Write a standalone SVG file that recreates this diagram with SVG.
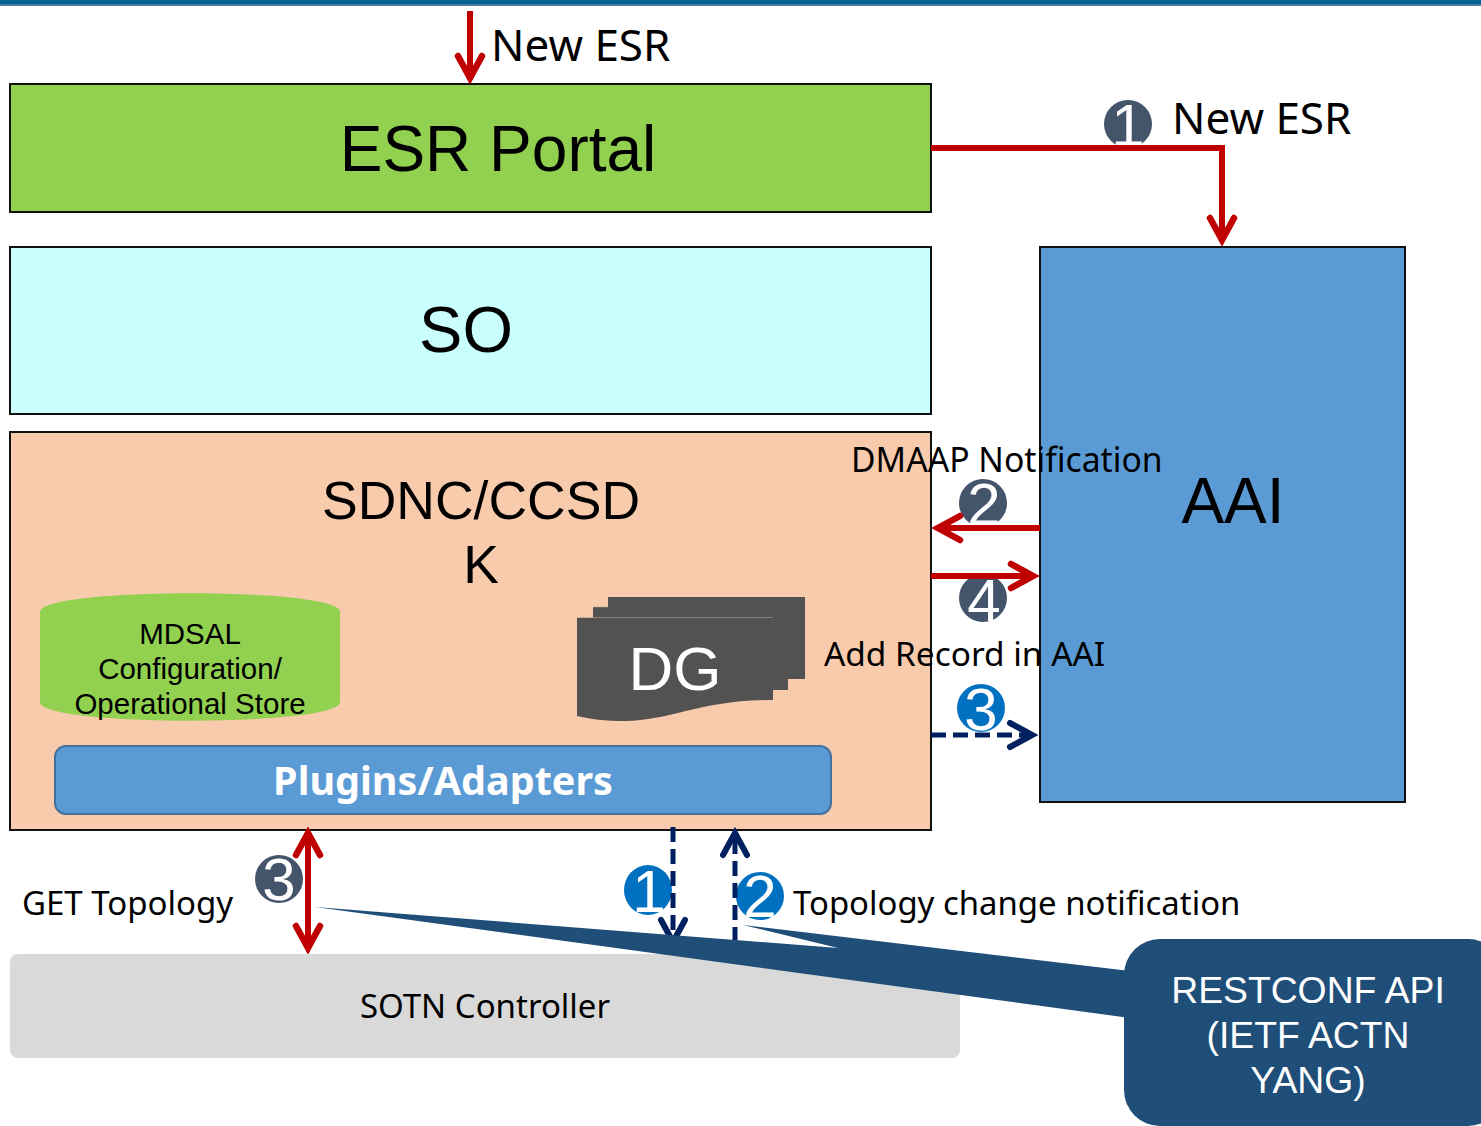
<svg xmlns="http://www.w3.org/2000/svg" width="1481" height="1126" viewBox="0 0 1481 1126">
<style>
.box{stroke:#111;stroke-width:2}
.sans{font-family:"Liberation Sans",Arial,sans-serif}
.ui{font-family:"Noto Sans","Open Sans",sans-serif}
text{text-anchor:middle;fill:#000}
.lab{text-anchor:start}
.num{font-family:"Liberation Sans",Arial,sans-serif;font-size:60px;fill:#fff}
.red{fill:none;stroke:#c00000;stroke-width:6}
.navy{fill:none;stroke:#002060;stroke-width:5;stroke-dasharray:15 7}
</style>
<defs>
<marker id="ar" markerUnits="userSpaceOnUse" markerWidth="32" markerHeight="32" refX="26" refY="14" orient="auto-start-reverse" viewBox="0 0 32 28"><path d="M4 2L26 14L4 26" fill="none" stroke="#c00000" stroke-width="6.500" stroke-linecap="round"/></marker>
<marker id="an" markerUnits="userSpaceOnUse" markerWidth="32" markerHeight="32" refX="26" refY="14" orient="auto" viewBox="0 0 32 28"><path d="M4 2L26 14L4 26" fill="none" stroke="#002060" stroke-width="6" stroke-linecap="round"/></marker>
</defs>
<g id="topbar"><rect x="0" y="0" width="1481" height="4" fill="#046290"/><rect x="0" y="4" width="1481" height="2" fill="#4a7ba6"/></g>
<g id="esr-portal"><rect class="box" x="10" y="84" width="921" height="128" fill="#92d050"/><text class="sans" font-size="64" x="498" y="171">ESR Portal</text></g>
<g id="so"><rect class="box" x="10" y="247" width="921" height="167" fill="#c9ffff"/><text class="sans" font-size="65" x="466" y="352">SO</text></g>
<g id="sdnc"><rect class="box" x="10" y="432" width="921" height="398" fill="#f8cbad"/><text class="sans" font-size="53.500" x="481" y="519">SDNC/CCSD</text><text class="sans" font-size="53.500" x="481" y="583">K</text></g>
<g id="mdsal"><path d="M40 612C40 587 340 587 340 612V702C340 727 40 727 40 702Z" fill="#92d050"/>
<text class="sans" font-size="29.500" x="190" y="644">MDSAL</text><text class="sans" font-size="29.500" x="190" y="679">Configuration/</text><text class="sans" font-size="29.500" x="190" y="714">Operational Store</text></g>
<g id="dg"><path d="M608 597H805V679H788V690H773V700C700 700 670 721 625 721C605 721 590 719 577 716V618H593V607H608Z" fill="#525252"/><path d="M577 617.500H773M593 607H608" fill="none" stroke="#b09a8c" stroke-width="0.600"/><text class="sans" font-size="62" x="675" y="690" style="fill:#fff">DG</text></g>
<g id="plugins"><rect x="55" y="746" width="776" height="68" rx="11" fill="#5b9bd5" stroke="#41719c" stroke-width="2"/><text class="ui" font-size="39.500" font-weight="700" x="443" y="795" style="fill:#fff">Plugins/Adapters</text></g>
<g id="aai"><rect class="box" x="1040" y="247" width="365" height="555" fill="#5b9bd5"/><text class="sans" font-size="64" x="1233" y="523">AAI</text></g>
<g id="sotn"><rect x="10" y="954" width="950" height="104" rx="8" fill="#d9d9d9"/><text class="ui" font-size="33" x="485" y="1018">SOTN Controller</text></g>
<g id="labels">
<text class="ui lab" font-size="44" x="491" y="61">New ESR</text>
<text class="ui lab" font-size="44" x="1172" y="134">New ESR</text>
<text class="ui lab" font-size="33.700" x="851" y="472">DMAAP Notification</text>
<text class="ui lab" font-size="33.400" x="824" y="666">Add Record in AAI</text>
<text class="ui lab" font-size="33" x="22" y="915">GET Topology</text>
<text class="ui lab" font-size="32.900" x="793" y="915">Topology change notification</text>
</g>
<g id="badges">
<g id="b1a"><circle cx="1128" cy="124" r="24" fill="#44546a"/><text class="num" x="1128" y="146">1</text></g>
<g id="b2a"><circle cx="983" cy="503" r="24" fill="#44546a"/><text class="num" x="984" y="525">2</text></g>
<g id="b4"><circle cx="983" cy="598" r="24" fill="#44546a"/><text class="num" x="984" y="621">4</text></g>
<g id="b3a"><circle cx="981" cy="708" r="24" fill="#0070c0"/><text class="num" x="981" y="730">3</text></g>
<g id="b3b"><ellipse cx="279" cy="879" rx="24" ry="24" fill="#44546a"/><text class="num" x="279" y="900">3</text></g>
<g id="b1b"><ellipse cx="648" cy="890" rx="24" ry="25" fill="#0070c0"/><text class="num" x="649" y="912">1</text></g>
<g id="b2b"><ellipse cx="760" cy="896" rx="24" ry="24" fill="#0070c0"/><text class="num" x="760" y="917">2</text></g>
</g>
<g id="connectors">
<path class="red" d="M470 11V78" marker-end="url(#ar)"/>
<path class="red" d="M931 148H1222V240" marker-end="url(#ar)"/>
<path class="red" d="M1040 528H938" marker-end="url(#ar)"/>
<path class="red" d="M931 576H1033" marker-end="url(#ar)"/>
<path class="red" d="M308 833V948" marker-start="url(#ar)" marker-end="url(#ar)"/>
<path class="navy" d="M931 735H1032" marker-end="url(#an)"/>
<path class="navy" d="M673 827V942" marker-end="url(#an)"/>
<path class="navy" d="M735 942V833" marker-end="url(#an)"/>
</g>
<g id="restconf"><path d="M315 907L1130 971V1018ZM743 925L1130 971V1000L838 948Z" fill="#1f4e79"/><rect x="1124" y="939" width="380" height="187" rx="36" fill="#1f4e79"/>
<text class="sans" font-size="37.300" x="1308" y="1003" style="fill:#fff">RESTCONF API</text><text class="sans" font-size="37.300" x="1308" y="1048" style="fill:#fff">(IETF ACTN</text><text class="sans" font-size="37.300" x="1308" y="1093" style="fill:#fff">YANG)</text></g>
</svg>
